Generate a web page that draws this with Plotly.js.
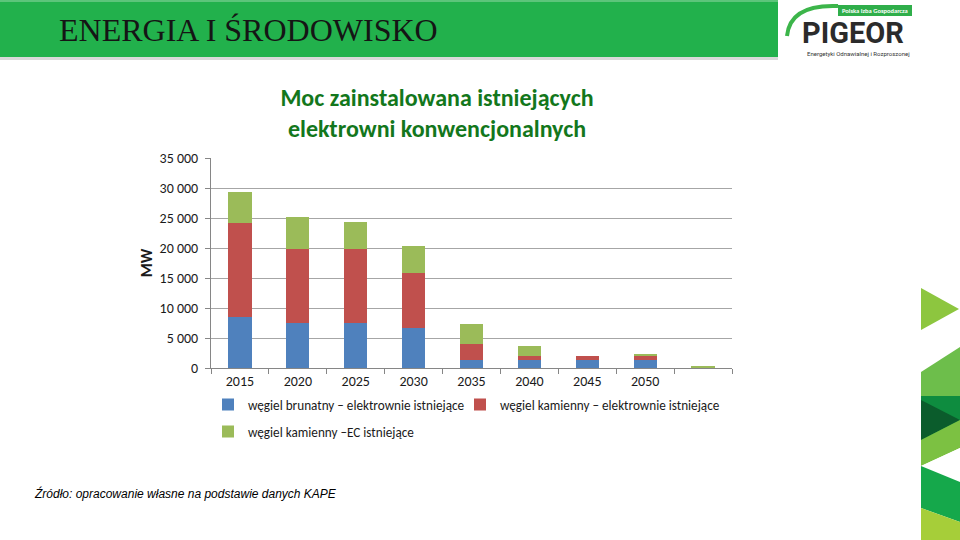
<!DOCTYPE html>
<html>
<head>
<meta charset="utf-8">
<script src="https://cdn.plot.ly/plotly-3.0.1.min.js"></script>
<style>html,body{margin:0;padding:0;background:#fff;}#chart{width:960px;height:540px;}</style>
</head>
<body>
<div id="chart"></div>
<script>
// ---- data ----
const categories = ['2015', '2020', '2025', '2030', '2035', '2040', '2045', '2050', ' '];
const brunatny = [8450, 7550, 7550, 6700, 1400, 1270, 1270, 1300, 0];
const kamienny = [15750, 12250, 12250, 9200, 2600, 780, 780, 750, 0];
const kamiennyEC = [5200, 5400, 4600, 4400, 3300, 1650, 0, 350, 350];
const seriesNames = [
  'węgiel brunatny – elektrownie istniejące',
  'węgiel kamienny – elektrownie istniejące',
  'węgiel kamienny –EC istniejące'
];
const yTicks = [0, 5000, 10000, 15000, 20000, 25000, 30000, 35000];

// ---- layout helpers (pixel -> paper) ----
const W = 960, H = 540, ML = 211, MR = 228, MT = 158, MB = 172;
const PW = W - ML - MR, PH = H - MT - MB;
const px = v => (v - ML) / PW;
const py = v => (H - MB - v) / PH;

const font = 'Carlito, Lato, "Open Sans", sans-serif';

const traces = [
  {type: 'bar', name: seriesNames[0], x: categories, y: brunatny, marker: {color: '#4F81BD'}, legend: 'legend'},
  {type: 'bar', name: seriesNames[1], x: categories, y: kamienny, marker: {color: '#C0504D'}, legend: 'legend2'},
  {type: 'bar', name: seriesNames[2], x: categories, y: kamiennyEC, marker: {color: '#9BBB59'}, legend: 'legend3'}
];

function poly(pts, color) {
  let d = 'M' + pts.map(p => px(p[0]) + ',' + py(p[1])).join(' L') + ' Z';
  return {type: 'path', xref: 'paper', yref: 'paper', path: d, fillcolor: color, line: {width: 0}, layer: 'above'};
}
function rect(x0, y0, x1, y1, color) {
  return {type: 'rect', xref: 'paper', yref: 'paper', x0: px(x0), x1: px(x1), y0: py(y1), y1: py(y0),
          fillcolor: color, line: {width: 0}, layer: 'above'};
}

const shapes = [
  rect(0, 0, 778, 57, '#22B14C'),
  rect(0, 0, 778, 2, '#5cc57a'),
  rect(0, 57, 778, 60, '#d9d9d9'),
  rect(778, 0, 918, 60, '#ffffff'),
  // logo arc
  {type: 'path', xref: 'paper', yref: 'paper',
   path: 'M' + px(787) + ',' + py(36) + ' Q' + px(790) + ',' + py(4) + ' ' + px(838) + ',' + py(6),
   line: {color: '#3cb54a', width: 4}, fillcolor: 'rgba(0,0,0,0)', layer: 'above'},
  rect(838, 5, 912, 16, '#2fae4a'),
  // decorative triangles on the right
  poly([[921, 288], [959, 309], [921, 330]], '#8DC63F'),
  poly([[921, 372], [960, 347], [960, 396], [921, 396]], '#6DBE4B'),
  poly([[921, 396], [960, 396], [960, 440], [921, 440]], '#0E8C3F'),
  poly([[921, 400], [960, 420], [921, 440]], '#0B5C2C'),
  poly([[921, 440], [960, 420], [960, 448], [921, 466]], '#7CC142'),
  poly([[921, 466], [960, 448], [960, 482]], '#ffffff'),
  poly([[921, 466], [960, 482], [960, 522], [921, 508]], '#15A84B'),
  poly([[921, 508], [960, 522], [960, 540], [921, 540]], '#A6CE39')
];

const annotations = [
  {xref: 'paper', yref: 'paper', x: px(57), y: py(30), xanchor: 'left', yanchor: 'middle', showarrow: false,
   text: 'ENERGIA I ŚRODOWISKO', font: {family: '"Liberation Serif", "DejaVu Serif", serif', size: 32, color: '#151515'}},
  {xref: 'paper', yref: 'paper', x: px(875), y: py(10.5), xanchor: 'center', yanchor: 'middle', showarrow: false,
   text: '<b>Polska Izba Gospodarcza</b>', font: {family: 'Carlito, Roboto, sans-serif', size: 6.5, color: '#ffffff'}},
  {xref: 'paper', yref: 'paper', x: px(853), y: py(33), xanchor: 'center', yanchor: 'middle', showarrow: false,
   text: '<b>PIGEOR</b>', font: {family: 'Roboto, sans-serif', size: 29, color: '#2b2b2b'}},
  {xref: 'paper', yref: 'paper', x: px(858), y: py(53), xanchor: 'center', yanchor: 'middle', showarrow: false,
   text: 'Energetyki Odnawialnej i Rozproszonej', font: {family: 'Roboto, sans-serif', size: 6, color: '#333333'}},
  {xref: 'paper', yref: 'paper', x: px(32), y: py(493), xanchor: 'left', yanchor: 'middle', showarrow: false,
   text: '<i>Źródło: opracowanie własne na podstawie danych KAPE</i>',
   font: {family: '"Liberation Sans", Arial, sans-serif', size: 12, color: '#000000'}}
];

const legendCommon = {
  orientation: 'h',
  xref: 'paper', yref: 'paper',
  xanchor: 'left', yanchor: 'middle',
  traceorder: 'normal',
  itemwidth: 30,
  font: {family: font, size: 13.2, color: '#1a1a1a'},
  bgcolor: 'rgba(0,0,0,0)'
};

const layout = {
  width: W, height: H,
  margin: {l: ML, r: MR, t: MT, b: MB, pad: 0},
  paper_bgcolor: '#ffffff', plot_bgcolor: '#ffffff',
  separators: ', ',
  barmode: 'stack',
  bargap: 0.6,
  showlegend: true,
  font: {family: font, size: 13.5, color: '#1a1a1a'},
  title: {
    text: '<b>Moc zainstalowana istniejących<br>elektrowni konwencjonalnych</b>',
    xref: 'container', x: 437 / W, xanchor: 'center',
    yref: 'container', y: 1 - 106 / H, yanchor: 'top',
    font: {family: font, size: 24, color: '#13771C'}
  },
  xaxis: {
    type: 'category',
    tickson: 'boundaries',
    ticks: 'outside', ticklen: 5, tickcolor: '#868686',
    showline: true, linecolor: '#868686', linewidth: 1,
    showgrid: false,
    tickfont: {family: font, size: 14, color: '#1a1a1a'},
    fixedrange: true
  },
  yaxis: {
    range: [0, 35000],
    tickvals: yTicks,
    tickformat: ',d',
    ticks: 'outside', ticklen: 5, tickcolor: '#868686',
    ticklabelstandoff: 4,
    showline: true, linecolor: '#868686', linewidth: 1,
    showgrid: true, gridcolor: '#a6a6a6', gridwidth: 1,
    zeroline: false,
    tickfont: {family: font, size: 14, color: '#1a1a1a'},
    title: {text: '<b>MW</b>', standoff: 2, font: {family: font, size: 16, color: '#1a1a1a'}},
    fixedrange: true
  },
  legend: Object.assign({}, legendCommon, {x: px(208), y: py(405)}),
  legend2: Object.assign({}, legendCommon, {x: px(460), y: py(405)}),
  legend3: Object.assign({}, legendCommon, {x: px(208), y: py(432)}),
  shapes: shapes,
  annotations: annotations
};

Plotly.newPlot('chart', traces, layout, {displayModeBar: false, staticPlot: true});
</script>
</body>
</html>
